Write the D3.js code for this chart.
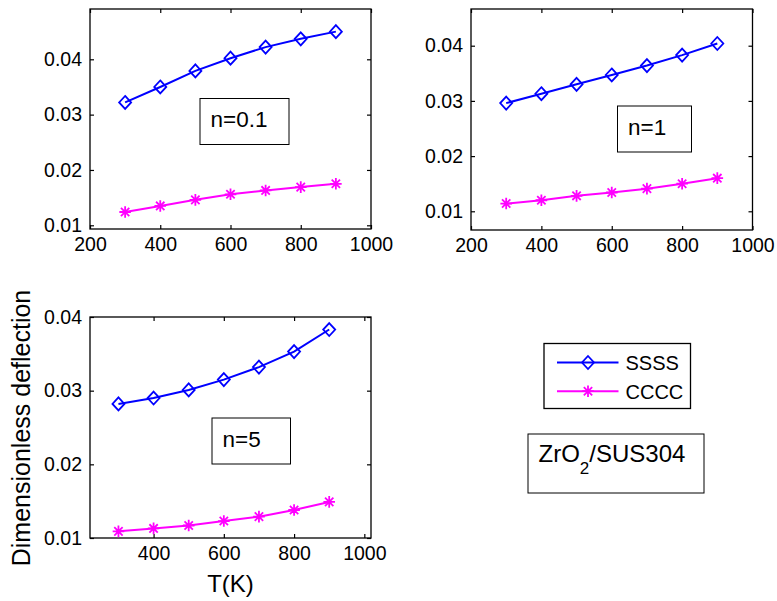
<!DOCTYPE html>
<html>
<head>
<meta charset="utf-8">
<script src="https://cdn.jsdelivr.net/npm/d3@7"></script>
<style>
  body { margin: 0; background: #fff; }
  svg { display: block; font-family: "Liberation Sans", Arial, Helvetica, sans-serif; }
  .axis text { font-size: 19.5px; fill: #000; }
  .axis line { stroke: #000; stroke-width: 1.2; }
</style>
</head>
<body>
<div id="chart"></div>
<script>
// temperatures (K) and dimensionless deflection
var temps = [300, 400, 500, 600, 700, 800, 900];

var ssssN01 = [0.0322, 0.0350, 0.0379, 0.0402, 0.0422, 0.0437, 0.0450];
var ccccN01 = [0.0124, 0.0135, 0.0146, 0.0156, 0.0163, 0.0169, 0.0175];

var ssssN1 = [0.0296, 0.0313, 0.0330, 0.0347, 0.0364, 0.0383, 0.0404];
var ccccN1 = [0.0114, 0.0120, 0.0128, 0.0134, 0.0141, 0.0150, 0.0160];

var ssssN5 = [0.0282, 0.0290, 0.0301, 0.0315, 0.0332, 0.0353, 0.0383];
var ccccN5 = [0.0109, 0.0113, 0.0117, 0.0123, 0.0129, 0.0138, 0.0149];

var xTicksTop = [200, 400, 600, 800, 1000];
var xTicksBottom = [400, 600, 800, 1000];
var yTicks = [0.01, 0.02, 0.03, 0.04];

var seriesNames = ["SSSS", "CCCC"];
var seriesColors = ["#0000ff", "#ff00ff"];
var panelLabels = ["n=0.1", "n=1", "n=5"];

var width = 777, height = 601;

var svg = d3.select("#chart")
  .append("svg")
    .attr("width", width)
    .attr("height", height);

// axes boxes of the three subplots
var panels = [
  {left: 90, top: 9, w: 281, h: 220, xDomain: [200, 1000], yDomain: [0.00933, 0.04909],
   xTicks: xTicksTop, series: [ssssN01, ccccN01], label: panelLabels[0],
   box: {x: 200, y: 98.5, w: 89, h: 46}},
  {left: 471, top: 9, w: 281.5, h: 221, xDomain: [200, 1000], yDomain: [0.00661, 0.04665],
   xTicks: xTicksTop, series: [ssssN1, ccccN1], label: panelLabels[1],
   box: {x: 617.5, y: 106, w: 74, h: 46}},
  {left: 90, top: 317, w: 281, h: 221, xDomain: [219, 1019], yDomain: [0.01, 0.04],
   xTicks: xTicksBottom, series: [ssssN5, ccccN5], label: panelLabels[2],
   box: {x: 212, y: 418, w: 78.5, h: 46}}
];

function diamond(s) {
  return "M0," + (-s - 0.5) + "L" + s + ",0L0," + (s + 0.5) + "L" + (-s) + ",0Z";
}
function asterisk(s) {
  var d = s * 0.72;
  return "M" + (-s) + ",0H" + s + "M0," + (-s) + "V" + s +
         "M" + (-d) + "," + (-d) + "L" + d + "," + d +
         "M" + (-d) + "," + d + "L" + d + "," + (-d);
}
var markers = [diamond(6), asterisk(5.8)];

function drawPanel(p) {
  var g = svg.append("g")
    .attr("transform", "translate(" + p.left + "," + p.top + ")");

  var x = d3.scaleLinear().domain(p.xDomain).range([0, p.w]);
  var y = d3.scaleLinear().domain(p.yDomain).range([p.h, 0]);

  // ticks point inwards on all four sides, like matlab's box on
  g.append("g").attr("class", "axis")
    .attr("transform", "translate(0," + p.h + ")")
    .call(d3.axisBottom(x).tickValues(p.xTicks).tickSizeInner(-4).tickSizeOuter(0)
      .tickPadding(8).tickFormat(d3.format("d")));
  g.append("g").attr("class", "axis")
    .call(d3.axisTop(x).tickValues(p.xTicks).tickSizeInner(-4).tickSizeOuter(0).tickFormat(""));
  g.append("g").attr("class", "axis")
    .call(d3.axisLeft(y).tickValues(yTicks).tickSizeInner(-4).tickSizeOuter(0)
      .tickPadding(8).tickFormat(d3.format(".2f")));
  g.append("g").attr("class", "axis")
    .attr("transform", "translate(" + p.w + ",0)")
    .call(d3.axisRight(y).tickValues(yTicks).tickSizeInner(-4).tickSizeOuter(0).tickFormat(""));
  g.selectAll(".axis .domain").remove();

  g.append("rect")
    .attr("width", p.w)
    .attr("height", p.h)
    .attr("fill", "none")
    .attr("stroke", "#000")
    .attr("stroke-width", 1.3);

  var line = d3.line()
    .x(function(d, i) { return x(temps[i]); })
    .y(function(d) { return y(d); });

  p.series.forEach(function(vals, k) {
    g.append("path")
      .attr("d", line(vals))
      .attr("fill", "none")
      .attr("stroke", seriesColors[k])
      .attr("stroke-width", 2);

    g.selectAll(".m" + k)
      .data(vals)
      .enter()
      .append("path")
        .attr("class", "m" + k)
        .attr("transform", function(d, i) { return "translate(" + x(temps[i]) + "," + y(d) + ")"; })
        .attr("d", markers[k])
        .attr("fill", "none")
        .attr("stroke", seriesColors[k])
        .attr("stroke-width", 1.8);
  });

  // the n=... text box
  svg.append("rect")
    .attr("x", p.box.x).attr("y", p.box.y)
    .attr("width", p.box.w).attr("height", p.box.h)
    .attr("fill", "none").attr("stroke", "#000").attr("stroke-width", 1);
  svg.append("text")
    .attr("x", p.box.x + 10.5)
    .attr("y", p.box.y + 28.5)
    .style("font-size", "22.5px")
    .text(p.label);
}

panels.forEach(drawPanel);

// axis titles on the lower-left plot
svg.append("text")
  .attr("transform", "translate(30,428) rotate(-90)")
  .attr("text-anchor", "middle")
  .style("font-size", "25px")
  .text("Dimensionless deflection");

svg.append("text")
  .attr("x", 230.5)
  .attr("y", 592)
  .attr("text-anchor", "middle")
  .style("font-size", "24px")
  .text("T(K)");

// legend
var legend = svg.append("g");
legend.append("rect")
  .attr("x", 544).attr("y", 343.5)
  .attr("width", 146.5).attr("height", 65)
  .attr("fill", "#fff").attr("stroke", "#000").attr("stroke-width", 1.3);

seriesNames.forEach(function(name, k) {
  var ly = 362.5 + k * 28.7;
  legend.append("line")
    .attr("x1", 557).attr("x2", 618.5)
    .attr("y1", ly).attr("y2", ly)
    .attr("stroke", seriesColors[k]).attr("stroke-width", 2);
  legend.append("path")
    .attr("transform", "translate(588," + ly + ")")
    .attr("d", markers[k])
    .attr("fill", "none")
    .attr("stroke", seriesColors[k])
    .attr("stroke-width", 1.8);
  legend.append("text")
    .attr("x", 625.5)
    .attr("y", ly + 7.3)
    .style("font-size", "20px")
    .text(name);
});

// material box
svg.append("rect")
  .attr("x", 528).attr("y", 434)
  .attr("width", 176).attr("height", 59)
  .attr("fill", "none").attr("stroke", "#000").attr("stroke-width", 1);

var mat = svg.append("text")
  .attr("x", 538.5)
  .attr("y", 461.5)
  .style("font-size", "24px");
mat.append("tspan").text("ZrO");
mat.append("tspan").attr("dy", 12).style("font-size", "17px").text("2");
mat.append("tspan").attr("dy", -12).text("/SUS304");
</script>
</body>
</html>
